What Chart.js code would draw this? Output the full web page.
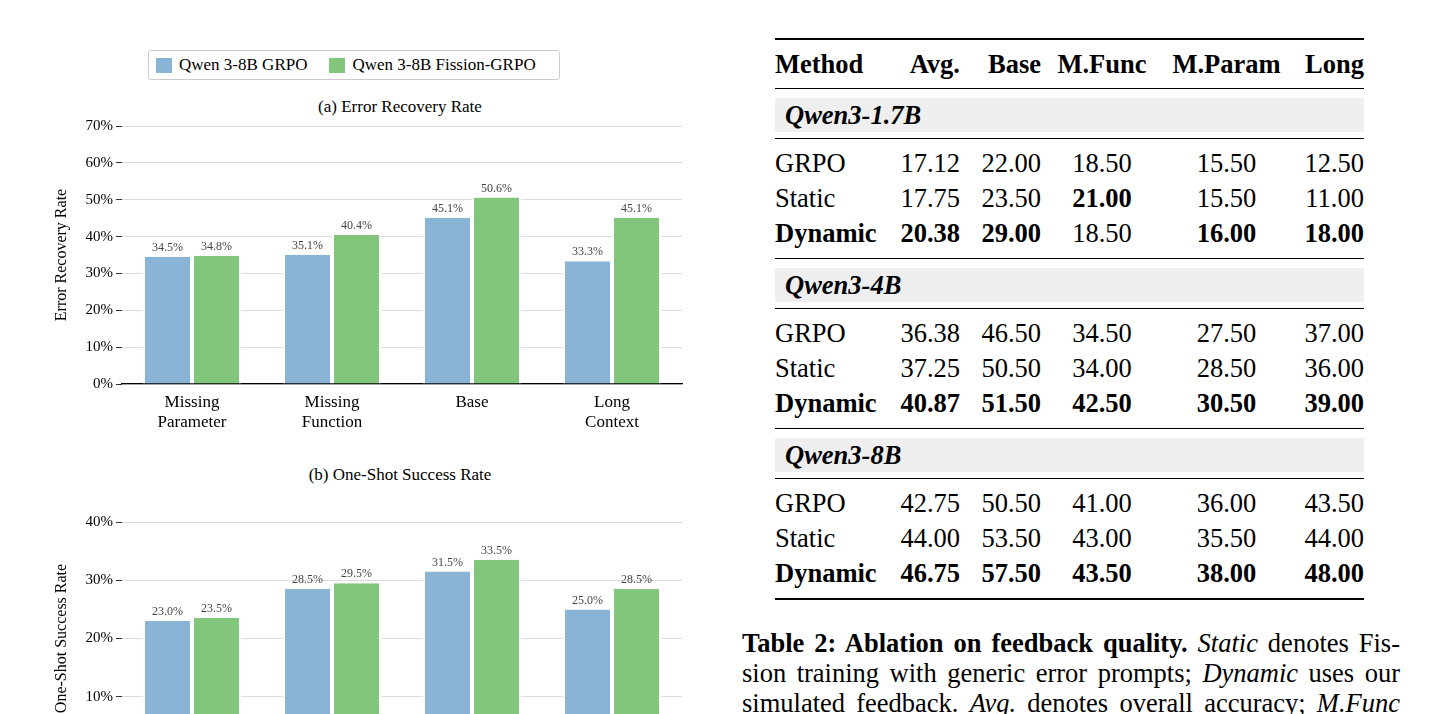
<!DOCTYPE html>
<html>
<head>
<meta charset="utf-8">
<script src="https://cdn.jsdelivr.net/npm/chart.js@4.4.1/dist/chart.umd.min.js"></script>
<style>
  html, body { margin: 0; padding: 0; background: #fff; }
  body { width: 1438px; height: 714px; overflow: hidden; position: relative; font-family: "Liberation Serif", "DejaVu Serif", serif; color: #000; }
  .abs { position: absolute; }
  .legend { left: 148px; top: 50px; width: 410px; height: 28px; border: 1px solid #ccc; border-radius: 3px; font-size: 17px; display: flex; align-items: center; }
  .legend span.sw { display: inline-block; width: 16px; height: 15px; margin: 0 7px 0 7px; }
  .ptitle { width: 560px; left: 120px; text-align: center; font-size: 17px; }
  table { border-collapse: collapse; font-size: 26.5px; line-height: 1; }
  td, th { padding: 0; white-space: nowrap; }
  th { font-weight: bold; height: 48px; }
  tr.data td { height: 35px; }
  tr.sp td { height: 7px; }
  .rule { border-bottom: 1px solid #000; }
  .grp { margin: 9px 0 6px 0; height: 34px; line-height: 34px; background: #efefef; font-weight: bold; font-style: italic; padding-left: 10px; }
  .r { text-align: right; } .c { text-align: center; } .l { text-align: left; }
  .caption { left: 742px; top: 628px; width: 658px; font-size: 26.5px; line-height: 30px; text-align: justify; hyphens: manual; }
</style>
</head>
<body>

<div class="abs legend">
  <span class="sw" style="background:#8ab4d6"></span>Qwen 3-8B GRPO
  <span class="sw" style="background:#82c67c;margin-left:22px"></span>Qwen 3-8B Fission-GRPO
</div>
<div class="abs ptitle" style="top:97px">(a) Error Recovery Rate</div>
<div class="abs ptitle" style="top:465px">(b) One-Shot Success Rate</div>

<canvas id="chartA" class="abs" style="left:0;top:90px"></canvas>
<canvas id="chartB" class="abs" style="left:0;top:455px"></canvas>

<table id="tbl" class="abs" style="left:775px;top:38px;width:589px;border-top:2px solid #000;border-bottom:2px solid #000"></table>

<div class="abs caption"><b>Table 2: Ablation on feedback quality.</b> <i>Static</i> denotes Fis&shy;sion training with generic error prompts; <i>Dynamic</i> uses our simulated feedback. <i>Avg.</i> denotes overall accuracy; <i>M.Func</i> denotes missing function; <i>M.Param</i> denotes missing parameter.</div>

<script>
// ---- chart data ----
const categories = [['Missing', 'Parameter'], ['Missing', 'Function'], 'Base', ['Long', 'Context']];
const seriesNames = ['Qwen 3-8B GRPO', 'Qwen 3-8B Fission-GRPO'];
const recoveryGrpo = [34.5, 35.1, 45.1, 33.3];
const recoveryFission = [34.8, 40.4, 50.6, 45.1];
const oneShotGrpo = [23.0, 28.5, 31.5, 25.0];
const oneShotFission = [23.5, 29.5, 33.5, 28.5];

// ---- table data ----
const tableHeader = ['Method', 'Avg.', 'Base', 'M.Func', 'M.Param', 'Long'];
const modelGroups = ['Qwen3-1.7B', 'Qwen3-4B', 'Qwen3-8B'];
const methods = ['GRPO', 'Static', 'Dynamic'];
const scores = [
    [['17.12', '22.00', '18.50', '15.50', '12.50'], ['17.75', '23.50', '21.00', '15.50', '11.00'], ['20.38', '29.00', '18.50', '16.00', '18.00']],
    [['36.38', '46.50', '34.50', '27.50', '37.00'], ['37.25', '50.50', '34.00', '28.50', '36.00'], ['40.87', '51.50', '42.50', '30.50', '39.00']],
    [['42.75', '50.50', '41.00', '36.00', '43.50'], ['44.00', '53.50', '43.00', '35.50', '44.00'], ['46.75', '57.50', '43.50', '38.00', '48.00']]
];
const boldCells = [
    [[], [2], [0, 1, 3, 4]],
    [[], [], [0, 1, 2, 3, 4]],
    [[], [], [0, 1, 2, 3, 4]]
];

const BLUE = '#8ab4d6';
const GREEN = '#82c67c';
const FONT = '"Liberation Serif", "DejaVu Serif", serif';

const barLabels = {
    id: 'barLabels',
    afterDatasetsDraw(chart) {
        const ctx = chart.ctx;
        ctx.save();
        ctx.font = '12px ' + FONT;
        ctx.fillStyle = '#444';
        ctx.textAlign = 'center';
        ctx.textBaseline = 'bottom';
        chart.data.datasets.forEach((ds, i) => {
            chart.getDatasetMeta(i).data.forEach((bar, j) => {
                ctx.fillText(ds.data[j].toFixed(1) + '%', bar.x, bar.y - 3);
            });
        });
        ctx.restore();
    }
};

function makeChart(id, w, h, grpo, fission, yMax, yTitle, padTop, xHeight) {
    const canvas = document.getElementById(id);
    canvas.width = w; canvas.height = h;
    canvas.style.width = w + 'px'; canvas.style.height = h + 'px';
    new Chart(canvas, {
        type: 'bar',
        data: {
            labels: categories,
            datasets: [
                { label: seriesNames[0], data: grpo, backgroundColor: BLUE, borderColor: '#fff', borderWidth: { left: 2, right: 2 } },
                { label: seriesNames[1], data: fission, backgroundColor: GREEN, borderColor: '#fff', borderWidth: { left: 2, right: 2 } }
            ]
        },
        options: {
            responsive: false,
            animation: false,
            layout: { padding: { top: padTop, right: 18, bottom: 0, left: 52 } },
            datasets: { bar: { categoryPercentage: 0.7, barPercentage: 1.0 } },
            plugins: { legend: { display: false }, tooltip: { enabled: false } },
            scales: {
                x: {
                    grid: { display: false },
                    border: { color: '#000', width: 1.3 },
                    ticks: { color: '#000', font: { family: FONT, size: 17 }, padding: 0 },
                    afterFit(s) { s.height = xHeight; }
                },
                y: {
                    min: 0, max: yMax,
                    border: { display: false },
                    grid: { color: '#dcdcdc', tickColor: '#333', tickLength: 6, drawTicks: true },
                    ticks: { stepSize: 10, color: '#000', padding: 3, font: { family: FONT, size: 15 }, callback: v => v + '%' },
                    title: { display: true, text: yTitle, color: '#000', font: { family: FONT, size: 16 }, padding: 0 },
                    afterFit(s) { s.width = 70; }
                }
            }
        },
        plugins: [barLabels]
    });
}

makeChart('chartA', 700, 380, recoveryGrpo, recoveryFission, 70, 'Error Recovery Rate', 36, 86);
makeChart('chartB', 700, 340, oneShotGrpo, oneShotFission, 40, 'One-Shot Success Rate', 67, 40);

// ---- table ----
const tbl = document.getElementById('tbl');
const colW = [105, 80, 81, 122, 127, 74];
const colA = ['l', 'r', 'r', 'c', 'c', 'r'];
let html = '<tr>' + tableHeader.map((t, i) => `<th class="${colA[i]} rule" style="width:${colW[i]}px">${t}</th>`).join('') + '</tr>';
modelGroups.forEach((g, gi) => {
    html += `<tr><td colspan="6" class="rule"><div class="grp">${g}</div></td></tr>`;
    html += '<tr class="sp"><td colspan="6"></td></tr>';
    methods.forEach((m, mi) => {
        const isDyn = m === 'Dynamic';
        html += '<tr class="data"><td class="l">' + (isDyn ? '<b>' + m + '</b>' : m) + '</td>';
        scores[gi][mi].forEach((v, ci) => {
            const b = boldCells[gi][mi].includes(ci);
            html += `<td class="${colA[ci + 1]}">${b ? '<b>' + v + '</b>' : v}</td>`;
        });
        html += '</tr>';
    });
    html += `<tr class="sp"><td colspan="6" class="${gi < modelGroups.length - 1 ? 'rule' : ''}"></td></tr>`;
});
tbl.innerHTML = html;
</script>
</body>
</html>
